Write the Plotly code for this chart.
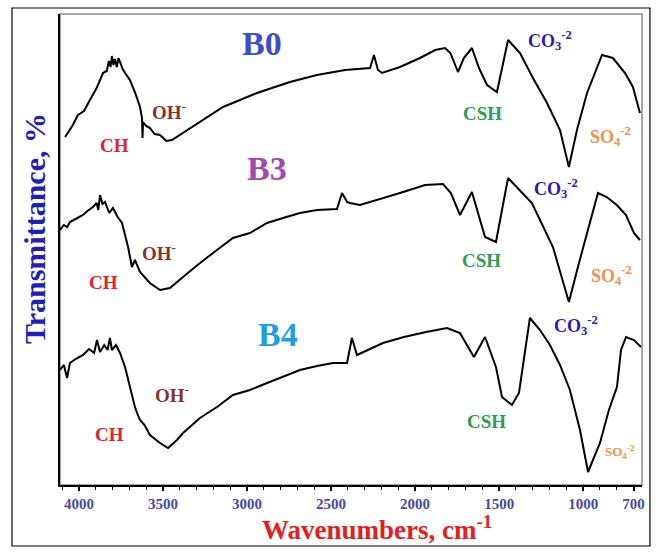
import plotly.graph_objects as go

# ---- data (wavenumber cm^-1, relative transmittance, offset per sample) ----
b0_wn = [4083, 4040, 4006, 3970, 3935, 3895, 3857, 3835, 3822, 3812, 3804, 3795, 3786, 3775, 3765, 3756,
         3740, 3726, 3697, 3665, 3637, 3625, 3622, 3619, 3600, 3578, 3550, 3518, 3480, 3447, 3400, 3340,
         3143, 2941, 2745, 2584, 2417, 2268, 2245, 2221, 2197, 2090, 1971, 1880, 1822,
         1790, 1745, 1710, 1662, 1620, 1572, 1513, 1447, 1376, 1299, 1215, 1138, 1085, 1037, 977, 888,
         823, 751, 704, 662]
b0_t = [346, 357, 368, 372, 383, 395, 410, 412, 422, 416, 427, 418, 424, 416, 425, 421,
        414, 410, 403, 390, 376, 365, 345, 361, 357, 355, 349, 348, 342, 343, 348, 355,
        376, 390, 401, 408, 413, 415, 428, 413, 410, 416, 425, 433, 435,
        430, 411, 425, 435, 415, 398, 391, 443, 430, 405, 380, 353, 316, 353, 390, 428,
        425, 410, 396, 370]

b3_wn = [4113, 4090, 4070, 4054, 4020, 3976, 3950, 3917, 3895, 3885, 3875, 3860, 3845, 3820, 3798, 3770,
         3744, 3708, 3685, 3667, 3637, 3578, 3518, 3459, 3381,
         3280, 3179, 3084, 2983, 2881, 2786, 2685, 2584, 2465, 2435, 2405, 2388, 2328, 2090, 1941, 1834,
         1787, 1733, 1662, 1584, 1519, 1447, 1305, 1180, 1085, 1025, 912, 860, 800, 745, 698, 662]
b3_t = [253, 258, 256, 261, 264, 268, 272, 276, 280, 273, 288, 279, 281, 270, 275, 266,
        260, 236, 216, 223, 211, 200, 193, 195, 206,
        220, 233, 245, 250, 260, 265, 270, 273, 274, 290, 281, 280, 278, 290, 298, 299,
        290, 268, 291, 246, 241, 305, 280, 236, 181, 220, 290, 286, 278, 268, 250, 243]

b4_wn = [4113, 4090, 4071, 4054, 4020, 3976, 3940, 3910, 3893, 3875, 3850, 3830, 3816, 3804, 3780, 3756,
         3726, 3697, 3667, 3650, 3637, 3610, 3578, 3518, 3470,
         3417, 3381, 3280, 3179, 3084, 2983, 2881, 2786, 2685, 2584, 2489, 2405, 2376, 2346, 2191, 2066,
         1935, 1810, 1733, 1685, 1650, 1584, 1519, 1483, 1424, 1382, 1317, 1257, 1198, 1138, 1079, 1019,
         971, 900, 847, 799, 775, 745, 698, 656]
b4_t = [113, 118, 105, 120, 124, 128, 134, 130, 143, 131, 138, 133, 145, 133, 138, 130,
        116, 96, 76, 68, 63, 58, 48, 40, 35,
        43, 50, 65, 76, 88, 93, 100, 106, 113, 117, 120, 120, 145, 128, 140, 146,
        151, 155, 150, 136, 126, 146, 116, 86, 78, 90, 165, 153, 138, 118, 93, 53,
        11, 40, 73, 96, 133, 146, 143, 136]

tick_vals = [4000, 3500, 3000, 2500, 2000, 1500, 1000, 700]

SERIF = "Liberation Serif, Times New Roman, serif"

fig = go.Figure()
for wn, t in [(b0_wn, b0_t), (b3_wn, b3_t), (b4_wn, b4_t)]:
    fig.add_trace(go.Scatter(x=wn, y=t, mode="lines",
                             line=dict(color="black", width=2), showlegend=False,
                             hoverinfo="skip"))

C_CH = "#e8202a"
C_OH = "#8b3030"
C_CSH = "#2e9e4e"
C_CO3 = "#2a1ab0"
C_SO4 = "#f0904a"

labels = [
    # text, x, y, color, size
    ("B0", 2911, 440, "#3a4ec8", 34),
    ("B3", 2881, 315, "#a04ab0", 34),
    ("B4", 2816, 149, "#1ea0e0", 34),
    ("CH", 3786, 338, C_CH, 19),
    ("OH<sup>-</sup>", 3464, 372, C_OH, 19),
    ("CSH", 1602, 370, C_CSH, 19),
    ("CO<sub>3</sub><sup>-2</sup>", 1198, 443, C_CO3, 18),
    ("SO<sub>4</sub><sup>-2</sup>", 835, 347, C_SO4, 18),
    ("CH", 3857, 201, C_CH, 19),
    ("OH<sup>-</sup>", 3524, 231, C_OH, 19),
    ("CSH", 1608, 223, C_CSH, 19),
    ("CO<sub>3</sub><sup>-2</sup>", 1162, 295, C_CO3, 18),
    ("SO<sub>4</sub><sup>-2</sup>", 829, 208, C_SO4, 18),
    ("CH", 3816, 49, C_CH, 19),
    ("OH<sup>-</sup>", 3447, 89, C_OH, 19),
    ("CSH", 1578, 62, C_CSH, 19),
    ("CO<sub>3</sub><sup>-2</sup>", 1043, 158, C_CO3, 18),
    ("SO<sub>4</sub><sup>-2</sup>", 781, 31, C_SO4, 13),
]
for txt, x, y, col, sz in labels:
    fig.add_annotation(x=x, y=y, xref="x", yref="y", text="<b>" + txt + "</b>",
                       showarrow=False, font=dict(family=SERIF, size=sz, color=col),
                       xanchor="center", yanchor="middle")

# axis titles
fig.add_annotation(x=0.545, y=-0.092, xref="paper", yref="paper",
                   text="<b>Wavenumbers, cm<sup>-1</sup></b>", showarrow=False,
                   font=dict(family=SERIF, size=27, color="#e41e1e"),
                   xanchor="center", yanchor="middle")
fig.add_annotation(x=-0.045, y=0.545, xref="paper", yref="paper",
                   text="<b>Transmittance, %</b>", showarrow=False, textangle=-90,
                   font=dict(family=SERIF, size=30, color="#2020b8"),
                   xanchor="center", yanchor="middle")

# plot box (gray top/right) and outer frame
fig.add_shape(type="rect", xref="paper", yref="paper", x0=0, y0=0, x1=1, y1=1,
              line=dict(color="#8a8a8a", width=1.5), layer="below")
fig.add_shape(type="rect", xref="paper", yref="paper", x0=-0.0825, y0=-0.1295,
              x1=1.0137, y1=1.0127, line=dict(color="black", width=1.2), layer="below")

fig.update_xaxes(range=[4113, 650], tickvals=tick_vals, ticktext=[f"<b>{v}</b>" for v in tick_vals],
                 tickfont=dict(family=SERIF, size=15, color="#4848a8"),
                 showline=True, linecolor="black", linewidth=1.5,
                 ticks="outside", ticklen=4, tickcolor="black", tickwidth=1.5,
                 minor=dict(dtick=100, ticks="outside", ticklen=3, tickcolor="black", tickwidth=1),
                 showgrid=False, zeroline=False)
fig.update_yaxes(range=[-2, 469], showline=True, linecolor="black", linewidth=1.5,
                 showticklabels=False, ticks="", showgrid=False, zeroline=False)

fig.update_layout(width=662, height=553, margin=dict(l=60, r=20, t=14, b=68),
                  plot_bgcolor="white", paper_bgcolor="white")

fig.write_html("out.html")
